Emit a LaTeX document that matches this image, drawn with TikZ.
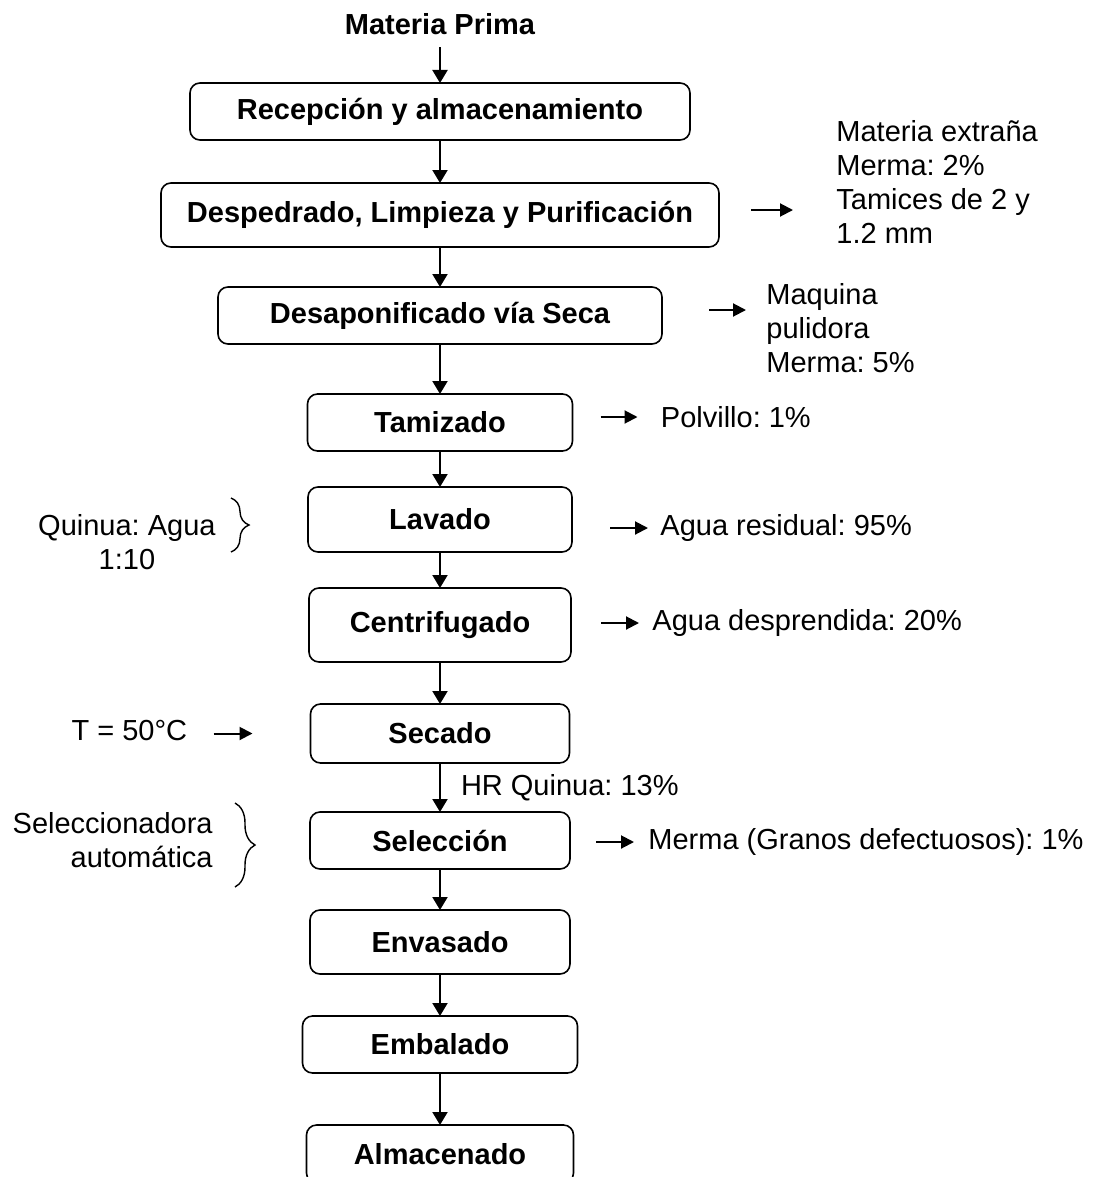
\documentclass[tikz,border=0pt]{standalone}
\usepackage{fontspec}
\setmainfont{Liberation Sans}
\frenchspacing
\usetikzlibrary{positioning,arrows.meta,decorations.pathreplacing}
\tikzset{
  stage/.style    = {rectangle, rounded corners=5pt, draw, line width=0.8pt, align=center,
                     inner sep=0pt, outer sep=0pt, font=\fontsize{14.5}{17}\selectfont\bfseries},
  flow/.style     = {-{Triangle[length=6.5pt,width=7.5pt]}, line width=1pt},
  lossflow/.style = {-{Triangle[length=6.5pt,width=6.5pt]}, line width=1pt},
  note/.style     = {font=\fontsize{14.5}{17}\selectfont, align=left, inner sep=0pt},
  curly/.style    = {decorate, decoration={brace, amplitude=#1}, line width=0.7pt},
}

\begin{document}
\begin{tikzpicture}[node distance=20pt]
  \useasboundingbox (0,0) rectangle (548.5pt,-588.5pt);
  \clip (0,0) rectangle (548.5pt,-588.5pt);

  % main line
  \node[note, font=\fontsize{14.5}{17}\selectfont\bfseries] (mp) at (220pt,-12pt) {Materia Prima};
  \node[stage, minimum width=250pt, minimum height=28.5pt] (rec) at (220pt,-55.75pt) {Recepción y almacenamiento};
  \node[stage, below=21.5pt of rec, minimum width=279pt, minimum height=32pt] (desp) {Despedrado, Limpieza y Purificación};
  \node[stage, below=20pt of desp, minimum width=222pt, minimum height=28.5pt] (desap) {Desaponificado vía Seca};
  \node[stage, below=25pt of desap, minimum width=132.5pt, minimum height=28.5pt] (tam) {Tamizado};
  \node[stage, below=18pt of tam, minimum width=132pt, minimum height=32.5pt] (lav) {Lavado};
  \node[stage, below=18pt of lav, minimum width=131pt, minimum height=37pt] (cen) {Centrifugado};
  \node[stage, below=21pt of cen, minimum width=129.5pt, minimum height=29.5pt] (sec) {Secado};
  \node[stage, below=24.5pt of sec, minimum width=130pt, minimum height=28.5pt] (sel) {Selección};
  \node[stage, below=20.5pt of sel, minimum width=130pt, minimum height=32pt] (env) {Envasado};
  \node[stage, below=21pt of env, minimum width=137.5pt, minimum height=28.5pt] (emb) {Embalado};
  \node[stage, below=26pt of emb, minimum width=133.5pt, minimum height=29pt] (alm) {Almacenado};

  \draw[flow, shorten <=6pt] (mp) -- (rec);
  \foreach \a/\b in {rec/desp, desp/desap, desap/tam, tam/lav, lav/cen, cen/sec, sel/env, env/emb, emb/alm}
    \draw[flow] (\a) -- (\b);
  \draw[flow] (sec) -- node[note, right=10pt] (hr) {HR Quinua: 13\%} (sel);

  % losses on the right
  \coordinate[right=16pt of desp.east, yshift=2.5pt] (despa);
  \coordinate[right=21pt of despa] (despb);
  \draw[lossflow] (despa) -- (despb);
  \node[note, right=21.5pt of despb, yshift=14pt] (despn) {Materia extraña\\Merma: 2\%\\Tamices de 2 y\\1.2 mm};

  \coordinate[right=23.5pt of desap.east, yshift=2.75pt] (desapa);
  \coordinate[right=18.5pt of desapa] (desapb);
  \draw[lossflow] (desapa) -- (desapb);
  \node[note, right=10pt of desapb, yshift=-9pt] (desapn) {Maquina\\pulidora\\Merma: 5\%};

  \coordinate[right=14pt of tam.east, yshift=2.75pt] (tama);
  \coordinate[right=18.5pt of tama] (tamb);
  \draw[lossflow] (tama) -- (tamb);
  \node[note, right=11.5pt of tamb] (tamn) {Polvillo: 1\%};

  \coordinate[right=19pt of lav.east, yshift=-4.25pt] (lava);
  \coordinate[right=19pt of lava] (lavb);
  \draw[lossflow] (lava) -- (lavb);
  \node[note, right=6pt of lavb] (lavn) {Agua residual: 95\%};

  \coordinate[right=15pt of cen.east, yshift=1pt] (cena);
  \coordinate[right=19pt of cena] (cenb);
  \draw[lossflow] (cena) -- (cenb);
  \node[note, right=6.5pt of cenb] (cenn) {Agua desprendida: 20\%};

  \coordinate[right=13pt of sel.east, yshift=-0.75pt] (sela);
  \coordinate[right=19pt of sela] (selb);
  \draw[lossflow] (sela) -- (selb);
  \node[note, right=7pt of selb] (seln) {Merma (Granos defectuosos): 1\%};

  % inputs on the left
  \coordinate[left=38.5pt of lav.west, yshift=10.75pt] (lavtop);
  \coordinate[left=38.5pt of lav.west, yshift=-16.25pt] (lavbot);
  \draw[curly=9pt] (lavtop) -- (lavbot);
  \node[note, align=center, left=46pt of lav.west, yshift=-11.5pt] (lavin) {Quinua: Agua\\1:10};

  \coordinate[left=29pt of sec.west] (secb);
  \coordinate[left=19.5pt of secb] (seca);
  \draw[lossflow] (seca) -- (secb);
  \node[note, left=13pt of seca, yshift=1.5pt] (secin) {T = 50°C};

  \coordinate[left=37.5pt of sel.west, yshift=18.75pt] (seltop);
  \coordinate[left=37.5pt of sel.west, yshift=-23.25pt] (selbot);
  \draw[curly=10pt] (seltop) -- (selbot);
  \node[note, align=right, left=48.5pt of sel.west] (selin) {Seleccionadora\\automática};
\end{tikzpicture}
\end{document}
